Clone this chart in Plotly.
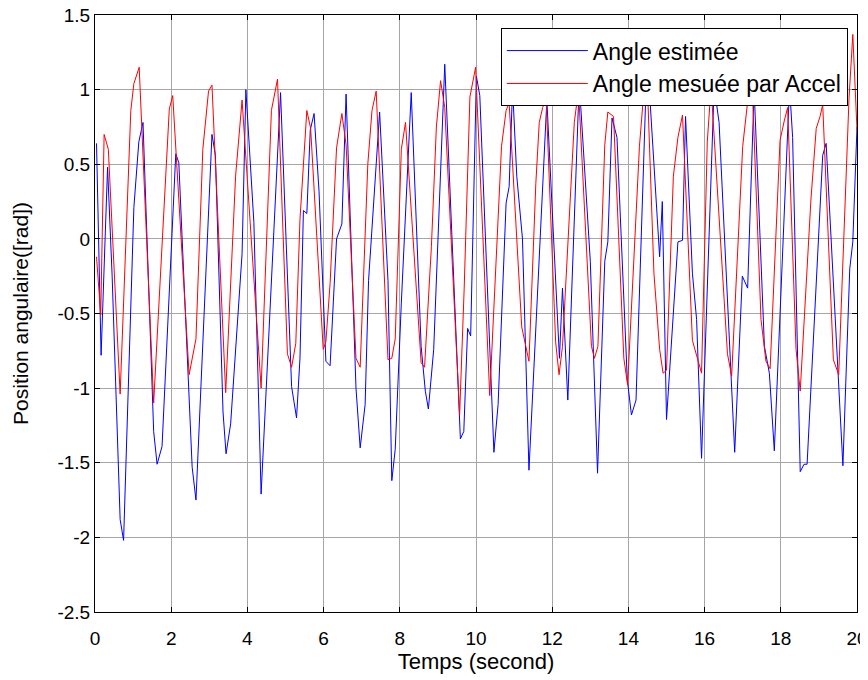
import plotly.graph_objects as go

# angle estimated by the filter (blue), vertices
t_est = [0.04, 0.16, 0.33, 0.45, 0.66, 0.75, 1.02, 1.15, 1.26, 1.54, 1.63, 1.76,
         2.12, 2.20, 2.55, 2.65, 3.07, 3.16, 3.36, 3.44, 3.56, 3.86, 3.96, 4.17,
         4.36, 4.87, 5.16, 5.29, 5.38, 5.47, 5.56, 5.65, 5.75, 5.88, 6.06, 6.17,
         6.34, 6.48, 6.59, 6.85, 6.96, 7.09, 7.18, 7.47, 7.69, 7.79, 7.88, 8.04,
         8.30, 8.56, 8.67, 8.75, 8.89, 9.03, 9.18, 9.59, 9.68, 9.78, 9.86, 10.01,
         10.10, 10.47, 10.58, 10.79, 10.87, 10.96, 11.07, 11.22, 11.39, 11.86, 12.19, 12.27,
         12.41, 12.71, 13.00, 13.19, 13.38, 13.46, 13.57, 13.70, 13.97, 14.08, 14.20, 14.45,
         14.55, 14.82, 14.89, 15.00, 15.30, 15.42, 15.50, 15.68, 15.79, 15.92, 16.25, 16.38,
         16.79, 16.99, 17.13, 17.30, 17.57, 17.70, 17.83, 18.23, 18.31, 18.51, 18.61, 18.69,
         19.10, 19.19, 19.63, 19.81, 19.89, 20.00]
angle_est = [0.64, -0.78, 0.48, -0.25, -1.88, -2.02, 0.21, 0.65, 0.78, -1.29, -1.51, -1.39,
             0.57, 0.51, -1.53, -1.75, 0.70, 0.56, -1.16, -1.44, -1.24, -0.10, 1.00, 0.11,
             -1.71, 0.98, -0.99, -1.20, -0.80, 0.19, 0.17, 0.73, 0.84, 0.32, -0.82, -0.85,
             0.00, 0.10, 0.97, -1.00, -1.40, -1.11, -0.28, 0.85, -0.28, -1.62, -1.41, -0.43,
             0.98, -0.72, -1.02, -1.14, -0.74, 0.24, 1.17, -1.34, -1.29, -0.60, -0.65, 1.09,
             0.96, -1.43, -1.11, 0.24, 0.35, 1.01, 0.42, 0.00, -1.55, 0.93, -0.80, -0.33,
             -1.08, 1.05, -0.15, -1.57, -0.15, -0.02, 0.81, 0.68, -0.94, -1.18, -1.08, 0.91,
             1.00, -0.12, 0.25, -1.21, -0.02, -0.01, 0.82, -0.23, -0.54, -1.47, 1.02, 0.78,
             -1.43, -0.25, -0.33, 1.00, -0.72, -0.90, -1.42, 1.02, 0.68, -1.56, -1.51, -1.51,
             0.56, 0.64, -1.52, -0.20, -0.02, 0.75]

# angle measured by the accelerometer (red)
t_acc = [0.04, 0.15, 0.24, 0.35, 0.66, 0.94, 1.02, 1.16, 1.54, 1.95, 2.04, 2.47,
         2.65, 2.83, 2.98, 3.07, 3.43, 3.69, 3.86, 4.36, 4.63, 4.79, 5.05, 5.16,
         5.27, 5.38, 5.56, 5.66, 5.99, 6.06, 6.17, 6.34, 6.48, 6.59, 6.85, 6.96,
         7.16, 7.27, 7.38, 7.69, 7.79, 7.88, 8.04, 8.15, 8.56, 8.65, 8.83, 8.96,
         9.07, 9.18, 9.57, 9.69, 9.84, 9.99, 10.36, 10.67, 10.79, 10.87, 11.20, 11.39,
         11.57, 11.66, 11.75, 11.84, 12.09, 12.18, 12.27, 12.58, 12.69, 13.03, 13.11, 13.20,
         13.38, 13.46, 13.61, 13.88, 13.98, 14.29, 14.40, 14.50, 14.67, 14.82, 14.91, 15.00,
         15.18, 15.30, 15.42, 15.68, 15.92, 16.07, 16.17, 16.60, 16.71, 17.00, 17.13, 17.25,
         17.48, 17.61, 17.72, 17.98, 18.09, 18.18, 18.40, 18.51, 18.79, 18.93, 19.03, 19.10,
         19.38, 19.52, 19.79, 19.89, 20.00]
angle_acc = [-0.12, -0.51, 0.70, 0.60, -1.04, 0.86, 1.04, 1.15, -1.10, 0.87, 0.96, -0.91,
             -0.67, 0.60, 0.99, 1.03, -1.03, 0.42, 0.93, -1.00, 0.86, 1.07, -0.77, -0.86,
             -0.70, 0.13, 0.86, 0.74, -0.74, -0.69, -0.30, 0.61, 0.84, 0.63, -0.80, -0.86,
             0.50, 0.86, 0.99, -0.81, -0.80, -0.67, 0.60, 0.78, -0.83, -0.86, -0.05, 0.75,
             1.06, 0.88, -1.18, -0.33, 0.95, 1.15, -1.05, 0.62, 0.86, 0.91, -0.59, -0.82,
             0.37, 0.78, 0.88, 0.94, -0.69, -0.91, -0.72, 0.78, 1.00, -0.72, -0.80, -0.72,
             0.63, 0.85, 0.82, -0.80, -0.98, 0.62, 0.97, 1.02, -0.23, -0.74, -0.90, -0.88,
             0.42, 0.68, 0.83, -0.68, -0.90, 0.65, 1.02, -0.77, -0.92, 0.62, 0.92, 1.02,
             -0.54, -0.82, -0.87, 0.66, 0.79, 0.88, -0.74, -1.02, 0.26, 0.74, 0.82, 0.90,
             -0.81, -0.91, 0.94, 1.37, 0.73]

x_ticks = [0, 2, 4, 6, 8, 10, 12, 14, 16, 18, 20]
y_ticks = [1.5, 1, 0.5, 0, -0.5, -1, -1.5, -2, -2.5]
y_labels = ["1.5", "1", "0.5", "0", "-0.5", "-1", "-1.5", "-2", "-2.5"]

fig = go.Figure()
fig.add_trace(go.Scatter(x=t_est, y=angle_est, mode="lines", name="Angle estimée",
                         line=dict(color="#0000ff", width=1)))
fig.add_trace(go.Scatter(x=t_acc, y=angle_acc, mode="lines", name="Angle mesuée par Accel",
                         line=dict(color="#ff0000", width=1)))

axis_common = dict(showline=True, linecolor="black", linewidth=1, mirror="allticks",
                   ticks="inside", ticklen=5, tickcolor="black",
                   showgrid=True, gridcolor="#a6a6a6", gridwidth=1, zeroline=False,
                   ticklabeloverflow="allow",
                   tickfont=dict(size=19, color="black"))

fig.update_xaxes(range=[0, 20], tickvals=x_ticks, ticktext=[str(v) for v in x_ticks],
                 ticklabelstandoff=9,
                 title=dict(text="Temps (second)", font=dict(size=22, color="black"), standoff=2),
                 **axis_common)
fig.update_yaxes(range=[-2.5, 1.5], tickvals=y_ticks, ticktext=y_labels,
                 title=dict(text="Position angulaire([rad])", font=dict(size=21, color="black"), standoff=23),
                 **axis_common)

# page body adds an 8px offset, so the figure is 8px smaller than the window
fig.update_layout(
    width=860, height=672,
    margin=dict(l=87, r=11, t=7, b=68, autoexpand=False),
    paper_bgcolor="white", plot_bgcolor="white",
    font=dict(family="Liberation Sans, Arial, sans-serif", size=19, color="black"),
    showlegend=True,
    legend=dict(x=0.988, xanchor="right", y=0.978, yanchor="top",
                bgcolor="white", bordercolor="black", borderwidth=1,
                itemwidth=81, font=dict(size=23)),
)

fig.write_html("out.html")
